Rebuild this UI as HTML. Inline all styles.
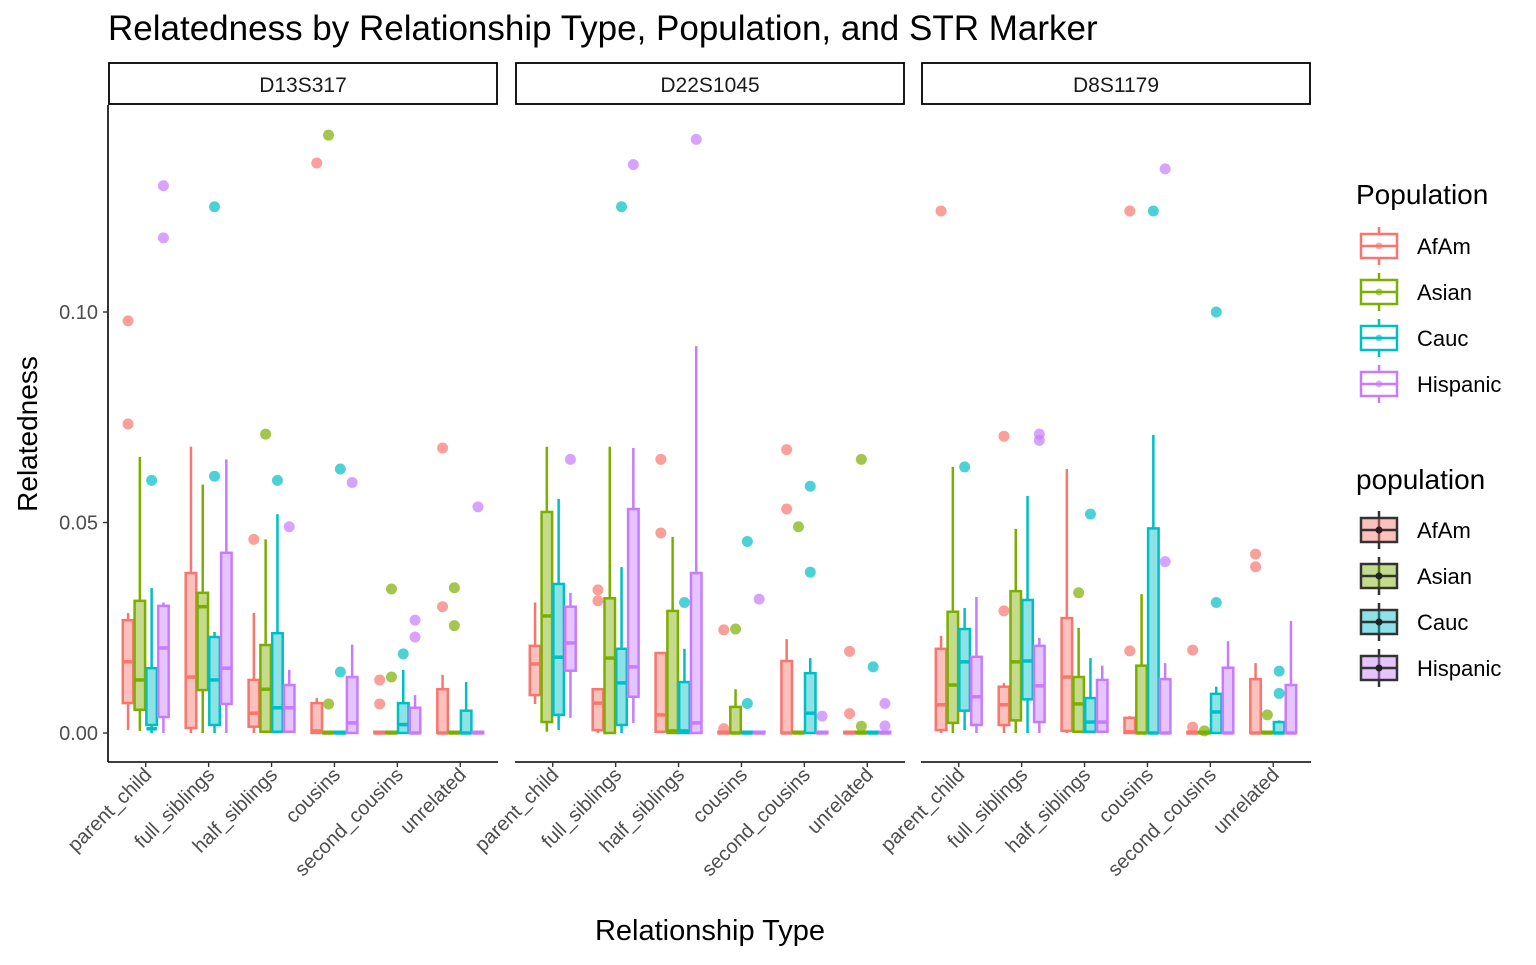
<!DOCTYPE html>
<html><head><meta charset="utf-8">
<style>
body{margin:0;background:#fff;}
svg text{font-family:"Liberation Sans",Arial,sans-serif;}
</style></head>
<body>
<svg id="chart" width="1536" height="960" xmlns="http://www.w3.org/2000/svg">
<text x="108" y="40" font-size="35" fill="#000">Relatedness by Relationship Type, Population, and STR Marker</text>
<text transform="translate(37,434) rotate(-90)" text-anchor="middle" font-size="28" fill="#000">Relatedness</text>
<text x="710" y="940" text-anchor="middle" font-size="29" fill="#000">Relationship Type</text>
<g id="plot"></g>
<g id="legend"></g>
</svg>
<script>
const markers = ["D13S317","D22S1045","D8S1179"];
const categories = ["parent_child","full_siblings","half_siblings","cousins","second_cousins","unrelated"];
const groups = ["AfAm","Asian","Cauc","Hispanic"];
const colors = ["#F8766D","#7CAE00","#00BFC4","#C77CFF"];
const yTicks = [0, 0.05, 0.10];
const yTickLabels = ["0.00","0.05","0.10"];
// box stats [min,q1,median,q3,max] per marker -> category -> group
const statsD13 = [
 [[0.0007,0.0071,0.0169,0.0268,0.0285],[0.0005,0.0055,0.0126,0.0314,0.0656],[0,0.0019,0.001,0.0154,0.0344],[0,0.0038,0.0202,0.0302,0.031]],
 [[0,0.0012,0.0133,0.038,0.068],[0,0.0102,0.030,0.0333,0.059],[0,0.0019,0.0126,0.0228,0.024],[0,0.0069,0.0154,0.0428,0.065]],
 [[0,0.0015,0.0047,0.0126,0.0285],[0,0.0003,0.0104,0.0209,0.046],[0,0.0003,0.006,0.0237,0.052],[0,0.0003,0.006,0.0114,0.015]],
 [[0,0,0.0005,0.0071,0.0083],[0,0,0,0.0003,0.0003],[0,0,0,0.0003,0.0003],[0,0,0.0024,0.0133,0.021]],
 [[0,0,0,0.0003,0.0003],[0,0,0,0.0003,0.0003],[0,0,0.002,0.0071,0.015],[0,0,0,0.006,0.009]],
 [[0,0,0,0.0104,0.0138],[0,0,0,0.0003,0.0003],[0,0,0,0.0053,0.0121],[0,0,0,0.0003,0.0003]]
];
const statsD22 = [
 [[0.0069,0.009,0.0164,0.0207,0.031],[0.0003,0.0026,0.0278,0.0525,0.068],[0.0007,0.0043,0.018,0.0354,0.0556],[0.0036,0.0148,0.0214,0.030,0.0333]],
 [[0,0.0007,0.0071,0.0104,0.0104],[0,0,0.0178,0.032,0.068],[0,0.0019,0.0119,0.020,0.0394],[0.0024,0.0086,0.0157,0.0532,0.0677]],
 [[0,0.0003,0.0043,0.019,0.019],[0,0,0.0005,0.029,0.0466],[0,0,0.0005,0.0121,0.020],[0,0,0.0024,0.038,0.0919]],
 [[0,0,0,0.0003,0.0003],[0,0,0,0.0062,0.0104],[0,0,0,0.0003,0.0003],[0,0,0,0.0003,0.0003]],
 [[0,0,0,0.0171,0.0223],[0,0,0,0.0003,0.0003],[0,0,0.0047,0.0142,0.0178],[0,0,0,0.0003,0.0003]],
 [[0,0,0,0.0003,0.0003],[0,0,0,0.0003,0.0003],[0,0,0,0.0003,0.0003],[0,0,0,0.0003,0.0003]]
];
const statsD8 = [
 [[0,0.0007,0.0067,0.020,0.0231],[0,0.0024,0.0114,0.0288,0.0632],[0.0007,0.0053,0.0169,0.0247,0.0297],[0,0.0019,0.0086,0.0181,0.0323]],
 [[0,0.0019,0.0067,0.011,0.0119],[0,0.003,0.0169,0.0337,0.0485],[0,0.008,0.0171,0.0316,0.0563],[0,0.0026,0.0112,0.0207,0.0226]],
 [[0,0.0005,0.0133,0.0273,0.0627],[0,0.0003,0.0069,0.0133,0.025],[0,0.0003,0.0026,0.0083,0.0178],[0,0.0003,0.0026,0.0126,0.016]],
 [[0,0,0.0003,0.0036,0.004],[0,0,0,0.016,0.033],[0,0,0,0.0486,0.0708],[0,0,0,0.0128,0.0166]],
 [[0,0,0,0.0003,0.0003],[0,0,0,0.0003,0.0003],[0,0,0.005,0.0093,0.011],[0,0,0,0.0155,0.0218]],
 [[0,0,0,0.0128,0.0166],[0,0,0,0.0003,0.0003],[0,0,0,0.0026,0.003],[0,0,0,0.0114,0.0266]]
];
// outliers per marker -> category -> group
const outD13 = [
 [[0.0979,0.0734],[],[0.060],[0.1176,0.130]],
 [[],[],[0.061,0.125],[]],
 [[0.046],[0.071],[0.060],[0.049]],
 [[0.1354],[0.0069,0.142],[0.0145,0.0627],[0.0595]],
 [[0.0069,0.0126],[0.0133,0.0342],[0.0188],[0.0228,0.0268]],
 [[0.030,0.0677],[0.0255,0.0345],[],[0.0537]]
];
const outD22 = [
 [[],[],[],[0.065]],
 [[0.0314,0.034],[],[0.125],[0.135]],
 [[0.0475,0.065],[],[0.031],[0.141]],
 [[0.0245,0.001],[0.0247],[0.0455,0.007],[0.0318]],
 [[0.0532,0.0673],[0.049],[0.0382,0.0586],[0.004]],
 [[0.0194,0.0046],[0.065,0.0016],[0.0157],[0.007,0.0017]]
];
const outD8 = [
 [[0.124],[],[0.0632],[]],
 [[0.029,0.0705],[],[],[0.0695,0.071]],
 [[],[0.0333],[0.052],[]],
 [[0.0195,0.124],[],[0.124],[0.0407,0.134]],
 [[0.0197,0.0014],[0.0005],[0.031,0.100],[]],
 [[0.0395,0.0425],[0.0043],[0.0094,0.0147],[]]
];
const allStats=[statsD13,statsD22,statsD8];
const allOut=[outD13,outD22,outD8];

const NS="http://www.w3.org/2000/svg";
const plot=document.getElementById('plot');
function mk(tag,attrs,parent){const e=document.createElementNS(NS,tag);for(const k in attrs)e.setAttribute(k,attrs[k]);(parent||plot).appendChild(e);return e;}
const panelX=[108,515,921], panelW=390, yTop=105, yBot=762;
function yScale(v){return 733 - v*4210;}
const unit=panelW/6.2;
function xCat(p,i){return panelX[p]+(0.6+i)*unit;}
function xGroup(p,i,j){return xCat(p,i)-0.375*unit+(0.75*unit/4)*(j+0.5);}
const bw=10.5;

let ax=mk('line',{x1:108,y1:yTop,x2:108,y2:yBot,stroke:'#000','stroke-width':1.6});


yTicks.forEach((t,k)=>{
  const y=yScale(t);
  const tk=mk('line',{x1:103,y1:y,x2:108,y2:y,stroke:'#333','stroke-width':1.4});
  
  
  const tl=mk('text',{x:98,y:y+7,'text-anchor':'end','font-size':20,fill:'#4d4d4d'});
  tl.textContent=yTickLabels[k];
  
  
});

markers.forEach((m,p)=>{
  const x0=panelX[p];
  const st=mk('rect',{x:x0+1,y:63,width:panelW-2,height:41,fill:'#fff',stroke:'#000','stroke-width':1.8});
  
  
  const stt=mk('text',{x:x0+panelW/2,y:92,'text-anchor':'middle','font-size':21,fill:'#1a1a1a'});
  stt.textContent=m;
  
  
  const xa=mk('line',{x1:x0,y1:yBot,x2:x0+panelW,y2:yBot,stroke:'#000','stroke-width':1.6});
  
  
  categories.forEach((c,i)=>{
    const cx=xCat(p,i);
    const tk=mk('line',{x1:cx,y1:yBot,x2:cx,y2:yBot+5,stroke:'#333','stroke-width':1.4});
    
    
    const tl=mk('text',{transform:`translate(${cx+7},${yBot+14}) rotate(-45)`,'text-anchor':'end','font-size':20,fill:'#4d4d4d'});
    tl.textContent=c;
    
    
    groups.forEach((g,j)=>{
      const s=allStats[p][i][j], col=colors[j], gx=xGroup(p,i,j);
      const grp=mk('g',{});
      
      
      mk('line',{x1:gx,y1:yScale(s[0]),x2:gx,y2:yScale(s[1]),stroke:col,'stroke-width':2.5},grp);
      mk('line',{x1:gx,y1:yScale(s[3]),x2:gx,y2:yScale(s[4]),stroke:col,'stroke-width':2.5},grp);
      const h=Math.max(yScale(s[1])-yScale(s[3]),1.5);
      mk('rect',{x:gx-bw/2,y:yScale(s[3]),width:bw,height:h,fill:col,'fill-opacity':0.45,stroke:col,'stroke-width':2.5},grp);
      mk('line',{x1:gx-bw/2,y1:yScale(s[2]),x2:gx+bw/2,y2:yScale(s[2]),stroke:col,'stroke-width':3.5},grp);
      allOut[p][i][j].forEach(v=>{
        const o=mk('circle',{cx:gx,cy:yScale(v),r:5.5,fill:col,'fill-opacity':0.7});
        
        
      });
    });
  });
});

const lg=document.getElementById('legend');
function legend(title,ty,y0,filled){
  const t=mk('text',{x:1356,y:ty,'font-size':28,fill:'#000'},lg);
  t.textContent=title;
  
  
  groups.forEach((g,j)=>{
    const y=y0+j*46, col=colors[j];
    const e=mk('g',{},lg);
    
    
    const sc=filled?'#333':col;
    mk('line',{x1:1379,y1:y-19,x2:1379,y2:y+19,stroke:sc,'stroke-width':2.5},e);
    mk('rect',{x:1361,y:y-12,width:36,height:24,fill:filled?col:'#fff','fill-opacity':filled?0.45:1,stroke:sc,'stroke-width':2.5},e);
    mk('line',{x1:1361,y1:y,x2:1397,y2:y,stroke:sc,'stroke-width':2.5},e);
    mk('circle',{cx:1379,cy:y,r:3.5,fill:filled?'#222':col,'fill-opacity':filled?1:0.6},e);
    const l=mk('text',{x:1417,y:y+8,'font-size':22,fill:'#000'},e);
    l.textContent=g;
  });
}
legend('Population',204,246,false);
legend('population',489,530,true);
</script>
</body></html>
